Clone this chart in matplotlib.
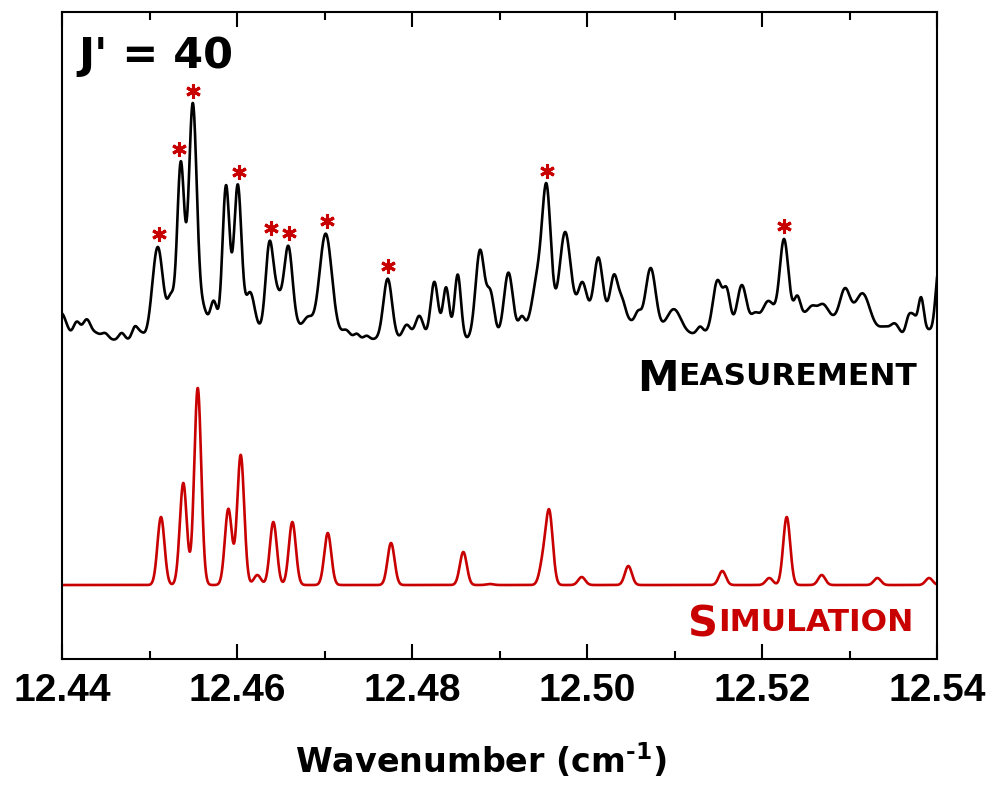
import numpy as np
import matplotlib
matplotlib.use('Agg')
import matplotlib.pyplot as plt
from matplotlib.ticker import MultipleLocator

plt.rcParams['font.family'] = 'DejaVu Sans'
plt.rcParams['font.weight'] = 'bold'
plt.rcParams['mathtext.default'] = 'bf'

#%% line lists

# measured spectrum: line centre (cm^-1), height (arb. u.), gaussian width (cm^-1)
meas_pos = [12.43989, 12.44168, 12.44282, 12.44389, 12.44491, 12.44682, 12.44834,
            12.44903, 12.45094, 12.45246, 12.45357, 12.45494, 12.45611, 12.45734,
            12.45874, 12.46008, 12.46149, 12.46369, 12.46457, 12.46586, 12.46811,
            12.47014, 12.47246, 12.47368, 12.47482, 12.47722, 12.47939, 12.48083,
            12.48255, 12.48389, 12.48522, 12.48777, 12.48897, 12.49101, 12.49254,
            12.49440, 12.49539, 12.49749, 12.49946, 12.50129, 12.50309, 12.50400,
            12.50583, 12.50728, 12.50994, 12.51291, 12.51489, 12.51597, 12.51768,
            12.51920, 12.52069, 12.52251, 12.52403, 12.52571, 12.52697, 12.52949,
            12.53151, 12.53406, 12.53520, 12.53680, 12.53737, 12.53817, 12.53909,
            12.54023]
meas_amp = [0.27, 0.17, 0.20, 0.06, 0.065, 0.07, 0.13,
            0.06, 0.93, 0.38, 1.75, 2.34, 0.29, 0.36,
            1.51, 1.495, 0.40, 0.80, 0.30, 0.79, 0.10,
            0.98, 0.06, 0.04, 0.03, 0.61, 0.15, 0.24,
            0.58, 0.52, 0.65, 0.88, 0.42, 0.62, 0.14,
            0.486, 1.24, 0.84, 0.30, 0.55, 0.40, 0.17,
            0.11, 0.60, 0.24, 0.07, 0.50, 0.36, 0.40,
            0.08, 0.17, 0.76, 0.18, 0.08, 0.12, 0.32,
            0.33, 0.05, 0.10, 0.20, 0.15, 0.40, 0.07,
            0.72]
meas_wid = [0.00063, 0.00040, 0.00046, 0.00046, 0.00040, 0.00034, 0.00034,
            0.00034, 0.00062, 0.00040, 0.00041, 0.00046, 0.00051, 0.00040,
            0.00041, 0.00043, 0.00051, 0.00043, 0.00051, 0.00048, 0.00046,
            0.00069, 0.00040, 0.00029, 0.00029, 0.00050, 0.00046, 0.00046,
            0.00043, 0.00037, 0.00037, 0.00051, 0.00043, 0.00050, 0.00034,
            0.00063, 0.00048, 0.00061, 0.00046, 0.00047, 0.00043, 0.00040,
            0.00034, 0.00057, 0.00080, 0.00034, 0.00051, 0.00040, 0.00051,
            0.00040, 0.00057, 0.00048, 0.00034, 0.00046, 0.00057, 0.00057,
            0.00080, 0.00057, 0.00046, 0.00034, 0.00029, 0.00034, 0.00034,
            0.00040]

# broad background under the measured lines
bg_pos = [12.46606, 12.50034, 12.52434]
bg_amp = [0.14, 0.28, 0.26]
bg_wid = [0.0040, 0.00514, 0.00629]
meas_offset = 2.45

# simulated line list, all lines with the same width
sim_pos = [12.45131, 12.45386, 12.45551, 12.45901, 12.46042, 12.46232, 12.46415,
           12.46632, 12.47037, 12.47760, 12.48586, 12.48891, 12.49497, 12.49569,
           12.49939, 12.50472, 12.51546, 12.52083, 12.52282, 12.52682, 12.53318,
           12.53909]
sim_amp = [0.68, 1.02, 1.97, 0.76, 1.30, 0.10, 0.63,
           0.63, 0.52, 0.42, 0.33, 0.01, 0.22, 0.71,
           0.08, 0.19, 0.14, 0.07, 0.68, 0.10, 0.07,
           0.07]
sim_wid = 0.00040

# lines assigned to J' = 40
star_pos = [12.45112, 12.45341, 12.45501, 12.46026, 12.46385, 12.46598,
            12.47025, 12.47722, 12.49539, 12.52251]

red = '#c80000'

#%%

def spectrum(x, pos, amp, wid):
    y = np.zeros_like(x)
    wid = np.broadcast_to(wid, len(pos))
    for p, a, w in zip(pos, amp, wid):
        y += a * np.exp(-0.5 * ((x - p) / w) ** 2)
    return y

x = np.linspace(12.436, 12.544, 4000)
meas = meas_offset + spectrum(x, bg_pos, bg_amp, bg_wid) + spectrum(x, meas_pos, meas_amp, meas_wid)
sim = spectrum(x, sim_pos, sim_amp, sim_wid)

star_y = []
for s in star_pos:
    near = np.abs(x - s) < 0.0003
    star_y.append(meas[near].max() + 0.125)

fig = plt.figure(figsize=(9.94, 7.99), dpi=100)
ax = fig.add_axes([0.0624, 0.1752, 0.8803, 0.8098])

ax.plot(x, meas, color='black', lw=1.9)
ax.plot(x, sim, color=red, lw=1.9)
ax.plot(star_pos, star_y, ls='none', marker=(6, 2, 0), ms=10.5, mew=2.2, color=red)

ax.set_xlim(12.44, 12.54)
ax.set_ylim(-0.74, 5.73)

ax.xaxis.set_major_locator(MultipleLocator(0.02))
ax.xaxis.set_minor_locator(MultipleLocator(0.01))
ax.xaxis.set_major_formatter(plt.FormatStrFormatter('%.2f'))
ax.tick_params(axis='x', which='both', direction='in', top=True, width=1.5, pad=10)
ax.tick_params(axis='x', which='major', length=11)
ax.tick_params(axis='x', which='minor', length=5.5)
ax.set_yticks([])
for lab in ax.get_xticklabels():
    lab.set_fontfamily('Liberation Sans')
    lab.set_fontweight('bold')
    lab.set_fontsize(28)
for sp in ax.spines.values():
    sp.set_linewidth(1.5)

ax.set_xlabel('Wavenumber (cm$^{\u20101}$)', fontsize=24, fontweight='bold', va='baseline')
ax.xaxis.set_label_coords(0.4794, -0.1762)

ax.text(0.0186, 0.913, "J' = 40", transform=ax.transAxes, fontsize=31,
        fontweight='bold', va='baseline', ha='left')

# small caps labels for the two traces
t = ax.text(0.9771, 0.4235, 'EASUREMENT', transform=ax.transAxes, fontsize=22.5,
            fontweight='bold', va='baseline', ha='right')
ax.annotate('M', xy=(0, 0), xycoords=t, fontsize=30, fontweight='bold',
            va='baseline', ha='right')
t = ax.text(0.9730, 0.0433, 'IMULATION', transform=ax.transAxes, fontsize=22.5,
            fontweight='bold', va='baseline', ha='right', color=red)
ax.annotate('S', xy=(0, 0), xycoords=t, fontsize=30, fontweight='bold',
            va='baseline', ha='right', color=red)

plt.savefig('out.png', dpi=100)
